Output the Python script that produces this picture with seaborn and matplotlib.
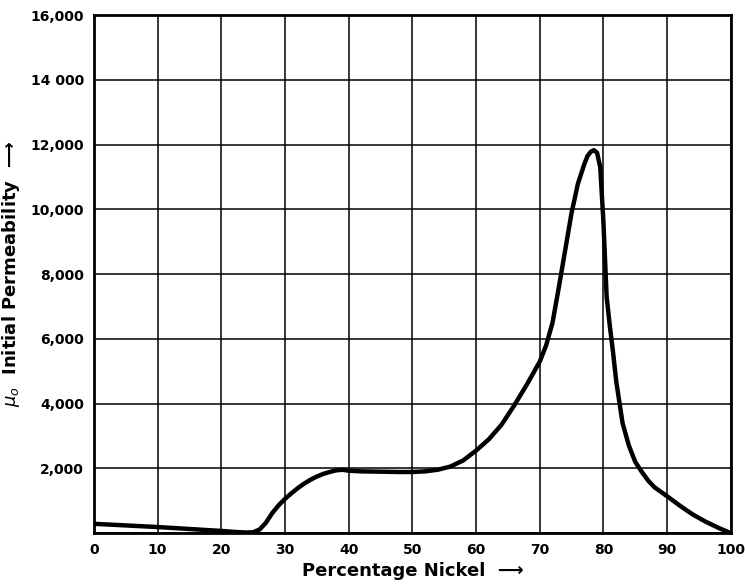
import numpy as np
import pandas as pd
import matplotlib
matplotlib.use("Agg")
import matplotlib.pyplot as plt
import seaborn as sns

# Initial permeability of iron-nickel alloys
nickel_pct = [0, 5, 10, 15, 20, 22, 24, 25, 26, 27, 28, 29, 30, 31, 32, 33, 34, 35,
              36, 37, 38, 39, 40, 42, 45, 48, 50, 52, 54, 56, 58, 60, 62, 64, 66, 68,
              70, 71, 72, 73, 74, 75, 76, 77, 77.5, 78, 78.5, 79, 79.5, 80, 80.5, 81,
              81.5, 82, 83, 84, 85, 86, 87, 88, 90, 92, 94, 96, 98, 100]
permeability = [290, 240, 190, 130, 70, 40, 20, 30, 110, 320, 620, 860, 1060, 1230,
                1390, 1530, 1650, 1750, 1830, 1890, 1940, 1960, 1930, 1910, 1900, 1890,
                1890, 1910, 1960, 2060, 2250, 2550, 2900, 3350, 3950, 4600,
                5300, 5800, 6500, 7600, 8750, 9900, 10800, 11400, 11650, 11780, 11830,
                11750, 11300, 9600, 7300, 6400, 5600, 4700, 3400, 2700, 2200, 1900,
                1630, 1420, 1140, 850, 580, 360, 170, 0]

x_ticks = list(range(0, 101, 10))
y_ticks = list(range(0, 16001, 2000))
y_tick_labels = ["", "2,000", "4,000", "6,000", "8,000", "10,000", "12,000",
                 "14 000", "16,000"]

df = pd.DataFrame({"nickel": nickel_pct, "mu": permeability})

sns.set_theme(style="white")
plt.rcParams["font.family"] = ["DejaVu Sans"]
plt.rcParams["text.color"] = "black"
plt.rcParams["axes.labelcolor"] = "black"
plt.rcParams["xtick.color"] = "black"
plt.rcParams["ytick.color"] = "black"

fig = plt.figure(figsize=(7.45, 5.84), dpi=100)
ax = fig.add_axes([0.126, 0.087, 0.855, 0.887])

sns.lineplot(x="nickel", y="mu", data=df, color="black", linewidth=3.2,
             estimator=None, ax=ax)

ax.set_xlim(0, 100)
ax.set_ylim(0, 16000)
ax.set_xticks(x_ticks)
ax.set_xticklabels([str(t) for t in x_ticks], fontsize=10, fontweight="bold")
ax.set_yticks(y_ticks)
ax.set_yticklabels(y_tick_labels, fontsize=10, fontweight="bold")
ax.tick_params(length=0, pad=7)

ax.grid(True, color="black", linewidth=1.1)
ax.set_axisbelow(True)
for s in ax.spines.values():
    s.set_color("black")
    s.set_linewidth(2.0)

ax.set_xlabel("Percentage Nickel  \u27f6", fontsize=13, fontweight="bold", labelpad=4)
ax.set_ylabel("$\\mu_o$  Initial Permeability  \u27f6", fontsize=13,
              fontweight="bold", labelpad=6)

fig.savefig("out.png", dpi=100)
